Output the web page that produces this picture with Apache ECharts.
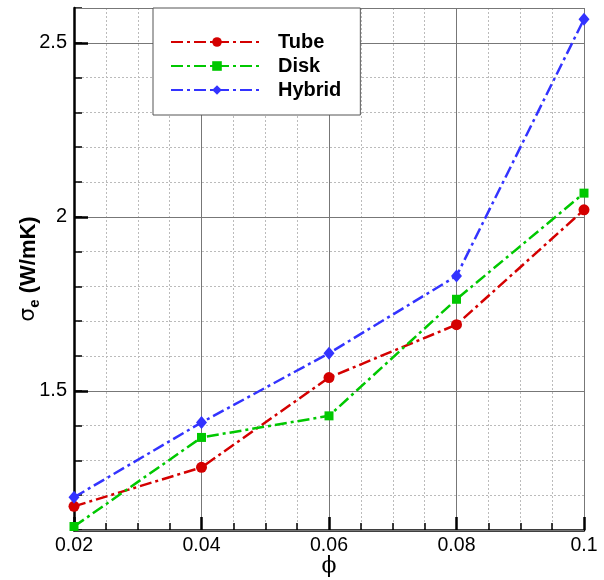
<!DOCTYPE html>
<html>
<head>
<meta charset="utf-8">
<script src="https://cdn.jsdelivr.net/npm/echarts@6/dist/echarts.min.js"></script>
<style>
  html, body { margin: 0; padding: 0; background: #fff; }
  #main { width: 604px; height: 580px; }
</style>
</head>
<body>
<div id="main"></div>
<script>
var phi = [0.02, 0.04, 0.06, 0.08, 0.1];
var tube = [1.168, 1.280, 1.538, 1.690, 2.020];
var disk = [1.110, 1.366, 1.428, 1.763, 2.068];
var hybrid = [1.194, 1.409, 1.608, 1.830, 2.568];

var font = 'Liberation Sans, Arial, sans-serif';
var dashDot = [12, 4, 3, 4];

function pairs(ys) {
  return phi.map(function (x, i) { return [x, ys[i]]; });
}

var myChart = echarts.init(document.getElementById('main'));

myChart.setOption({
  animation: false,
  grid: { left: 74, right: 20, top: 8, bottom: 50, containLabel: false, outerBoundsMode: 'none' },
  legend: {
    orient: 'vertical',
    left: 153,
    top: 8,
    padding: [24, 19, 15, 17],
    itemWidth: 92,
    itemHeight: 12,
    itemGap: 4,
    backgroundColor: '#fff',
    borderColor: '#555',
    borderWidth: 1,
    borderRadius: 0,
    textStyle: { fontFamily: font, fontSize: 20, lineHeight: 20, fontWeight: 'bold', color: '#000', padding: [0, 0, 0, 10] },
    data: ['Tube', 'Disk', 'Hybrid']
  },
  xAxis: {
    type: 'value',
    min: 0.02,
    max: 0.1,
    interval: 0.02,
    name: 'ϕ',
    nameLocation: 'middle',
    nameGap: 25,
    nameMoveOverlap: false,
    nameTextStyle: { fontFamily: 'DejaVu Serif, serif', fontSize: 22, color: '#000' },
    axisLine: { show: true, onZero: false, lineStyle: { color: '#000', width: 2.5 } },
    axisTick: { inside: true, length: 13, lineStyle: { color: '#000', width: 2.5 } },
    minorTick: { show: true, splitNumber: 4, length: 7, lineStyle: { color: '#000', width: 1.5 } },
    axisLabel: { fontFamily: font, fontSize: 19.5, color: '#000', margin: 6 },
    splitLine: { show: true, lineStyle: { color: '#777', width: 1 } },
    minorSplitLine: { show: true, lineStyle: { color: '#bbb', width: 1, type: [2, 2] } }
  },
  yAxis: [
    {
      type: 'value',
      min: 1.1,
      max: 2.6,
      minInterval: 0.5,
      maxInterval: 0.5,
      z: 2,
      name: '{s|σ}{sub|e}{b| (W/mK)}',
      nameLocation: 'middle',
      nameRotate: 90,
      nameGap: 32,
      nameMoveOverlap: false,
      nameTextStyle: {
        color: '#000',
        rich: {
          s: { fontFamily: 'DejaVu Sans, sans-serif', fontSize: 22, color: '#000' },
          sub: { fontFamily: font, fontSize: 15, fontWeight: 'bold', color: '#000', verticalAlign: 'bottom', padding: [12, 0, 0, 0] },
          b: { fontFamily: font, fontSize: 22, fontWeight: 'bold', color: '#000' }
        }
      },
      axisLine: { show: true, onZero: false, lineStyle: { color: '#000', width: 2.5 } },
      axisTick: { inside: true, length: 14, lineStyle: { color: '#000', width: 2.5 } },
      axisLabel: { fontFamily: font, fontSize: 20, color: '#000', margin: 7, showMinLabel: false, showMaxLabel: false },
      splitLine: { show: true, lineStyle: { color: '#777', width: 1 } }
    },
    {
      type: 'value',
      min: 1.1,
      max: 2.6,
      interval: 0.1,
      position: 'left',
      z: 1,
      axisLine: { show: false },
      axisTick: { show: true, inside: true, length: 8, lineStyle: { color: '#000', width: 1.5 } },
      axisLabel: { show: false },
      splitLine: { show: true, lineStyle: { color: '#bbb', width: 1, type: [2, 2] } }
    }
  ],
  series: [
    {
      name: 'Tube',
      type: 'line',
      z: 3,
      data: pairs(tube),
      symbol: 'circle',
      symbolSize: 11,
      color: '#d40000',
      lineStyle: { width: 2.5, type: dashDot }
    },
    {
      name: 'Disk',
      type: 'line',
      z: 3,
      data: pairs(disk),
      symbol: 'rect',
      symbolSize: 9,
      color: '#00c800',
      lineStyle: { width: 2.5, type: dashDot }
    },
    {
      name: 'Hybrid',
      type: 'line',
      z: 3,
      data: pairs(hybrid),
      symbol: 'diamond',
      symbolSize: [11, 13],
      color: '#3333ff',
      lineStyle: { width: 2.5, type: dashDot }
    }
  ]
});
</script>
</body>
</html>
